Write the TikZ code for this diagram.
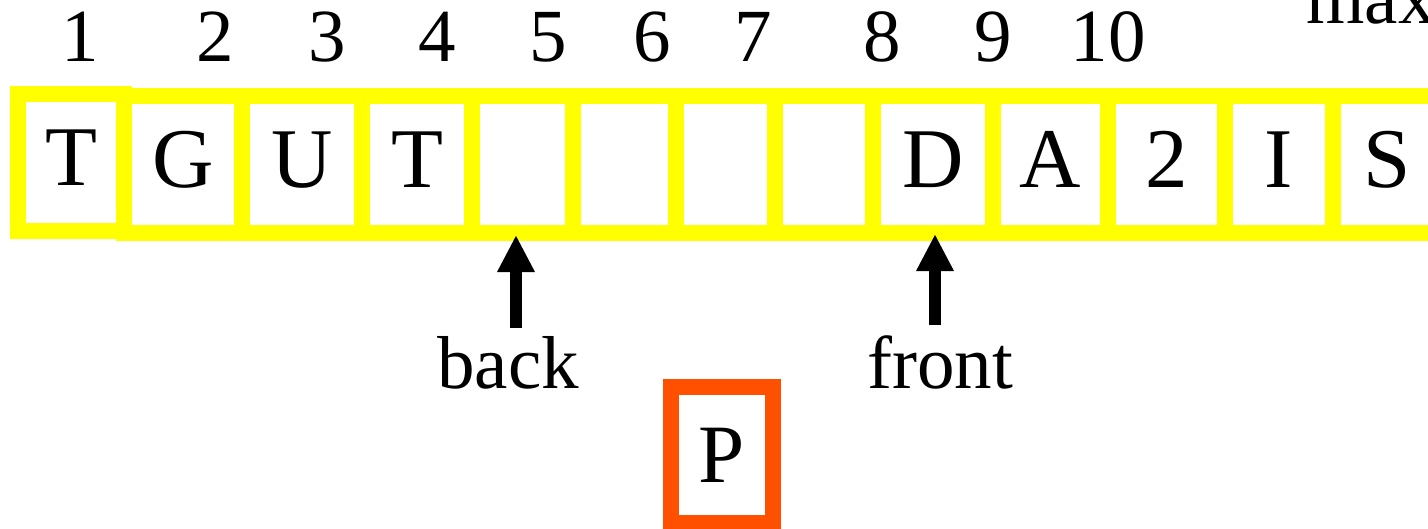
\documentclass[tikz,border=0pt]{standalone}
\usepackage{fontspec}
\setmainfont{Liberation Serif}
\usepackage{tikz}
\usetikzlibrary{positioning}
\usetikzlibrary{arrows.meta}
\definecolor{qyellow}{RGB}{255,255,0}
\definecolor{qorange}{RGB}{255,80,0}

\begin{document}
\begin{tikzpicture}[x=0.5pt, y=-0.5pt,
			cell/.style = {
				draw=qyellow, line width=8pt, inner sep=0pt,
				minimum height=68.5pt, text height=23.5pt, text depth=0pt,
				font=\fontsize{42.5}{50}\selectfont
			},
			idx/.style = {
				anchor=base, inner sep=0pt,
				font=\fontsize{37.5}{44}\selectfont
			},
			ptr/.style = {
				line width=6pt, -{Triangle[length=18.5pt,width=17.5pt]}
			}]
			\useasboundingbox (0,0) rectangle (1428,529);
			\clip (0,0) rectangle (1428,529);
			% the array cells
			\node (c1) [cell, minimum width=53pt] at (71,162.5) {T};
			\node (c2) [cell, minimum width=59pt] at (183,164.5) {G};
			\node (c3) [cell, minimum width=60pt] at (302,164.5) {U};
			\node (c4) [cell, minimum width=55pt] at (417,164.5) {T};
			\node (c5) [cell, minimum width=50.5pt] at (522.5,164.5) {};
			\node (c6) [cell, minimum width=51.5pt] at (624.5,164.5) {};
			\node (c7) [cell, minimum width=49.5pt] at (725.5,164.5) {};
			\node (c8) [cell, minimum width=49pt] at (824,164.5) {};
			\node (c9) [cell, minimum width=60pt] at (933,164.5) {D};
			\node (c10) [cell, minimum width=57.5pt] at (1050.5,164.5) {A};
			\node (c11) [cell, minimum width=58.5pt] at (1166.5,164.5) {2};
			\node (c12) [cell, minimum width=54pt] at (1279,164.5) {I};
			\node (c13) [cell, minimum width=54pt] at (1387,164.5) {S};
			% indices
			\node (n1) [idx] at (80,62) {1};
			\node (n2) [idx] at (215,62) {2};
			\node (n3) [idx] at (327,62) {3};
			\node (n4) [idx] at (437,62) {4};
			\node (n5) [idx] at (548,62) {5};
			\node (n6) [idx] at (652,62) {6};
			\node (n7) [idx] at (753,62) {7};
			\node (n8) [idx] at (882,62) {8};
			\node (n9) [idx] at (993,62) {9};
			\node (n10) [idx] at (1108,62) {10};
			\node (max) [idx, anchor=base west] at (1306,24) {max};
			% back and front pointers
			\node (back) [idx] at (508,388) {back};
			\node (front) [idx] at (940,388) {front};
			\coordinate (bt) at ([xshift=-3.25pt]c5.south);
			\coordinate (ft) at ([xshift=1pt]c9.south);
			\draw [ptr, shorten <=4pt, shorten >=-3pt] (bt |- back.north) -- (bt);
			\draw [ptr, shorten <=5pt, shorten >=-3.5pt] (ft |- front.north) -- (ft);
			% item waiting to go in
			\node (p) [cell, draw=qorange, minimum width=51pt, minimum height=68pt,
			text height=27pt, font=\fontsize{41.5}{48}\selectfont] at (722,455) {P};
		\end{tikzpicture}
\end{document}
